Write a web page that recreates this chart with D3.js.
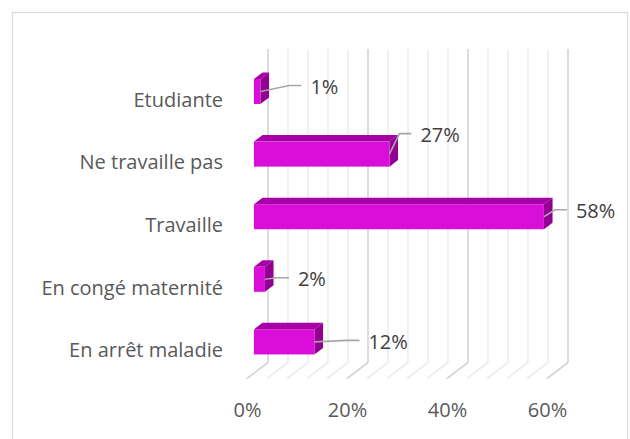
<!DOCTYPE html>
<html>
<head>
<meta charset="utf-8">
<script src="https://cdn.jsdelivr.net/npm/d3@7"></script>
<style>
    html, body { margin: 0; padding: 0; background: #fff; }
    svg text { font-family: "Open Sans", Lato, sans-serif; }
</style>
</head>
<body>
<svg id="chart" width="630" height="439"></svg>
<script>
// categories top to bottom
var categories = ['Etudiante', 'Ne travaille pas', 'Travaille', 'En congé maternité', 'En arrêt maladie'];
var values = [0.013, 0.271, 0.580, 0.022, 0.121];
var tick_values = [0, 0.2, 0.4, 0.6];
// label nudges (dragged by hand in the original), px from bar end
var label_nudge = [[50, -4.5], [31, -19], [32, -5.5], [33, 0], [54, 0]];

var svg = d3.select('#chart');
var font = '"Open Sans", Lato, sans-serif';
var font_size = 20;
var depth = {dx: 21, dy: -16};
var bar_depth = [0.33, 0.74];
var colors = {front: '#d90fd9', top: '#a600a6', side: '#920092'};

var x_scale = d3.scaleLinear().domain([0, 0.6]).range([247, 547]);
var y_scale = d3.scaleBand().domain(categories).range([65.5, 378.5])
    .paddingInner(0.6).paddingOuter(0.3);
var y_front = y_scale.range()[1];
var y_back = y_front + depth.dy;
var y_top = y_scale.range()[0] + depth.dy - 0.5;

// chart border
svg.append('rect')
    .attr('x', 12.5).attr('y', 12.5)
    .attr('width', 615).attr('height', 440)
    .attr('fill', 'none').attr('stroke', '#d9d9d9').attr('stroke-width', 1.2);

// gridlines: back wall + floor
var grid = d3.range(0, 0.6001, 0.04);
var grid_g = svg.append('g');
grid.forEach(function (g, i) {
    var major = i % 5 == 0;
    var xb = x_scale(g) + depth.dx;
    var col = major ? '#d4d4d4' : '#ececec';
    grid_g.append('line')
        .attr('x1', xb).attr('x2', xb)
        .attr('y1', y_top).attr('y2', y_back)
        .attr('stroke', col).attr('stroke-width', 1.6);
    grid_g.append('line')
        .attr('x1', xb).attr('y1', y_back)
        .attr('x2', x_scale(g)).attr('y2', y_front)
        .attr('stroke', col).attr('stroke-width', 1.6);
});

// bars
var bars = svg.append('g').selectAll('g.bar')
    .data(categories)
    .enter()
    .append('g')
    .attr('class', 'bar');

bars.each(function (c, i) {
    var g = d3.select(this);
    var x0 = x_scale(0), x1 = x_scale(values[i]);
    var y0 = y_scale(c), h = y_scale.bandwidth();
    var f0x = bar_depth[0] * depth.dx, f0y = bar_depth[0] * depth.dy;
    var f1x = bar_depth[1] * depth.dx, f1y = bar_depth[1] * depth.dy;
    var pts = function (a) {
        return a.map(function (p) { return p.join(','); }).join(' ');
    };
    g.append('polygon')
        .attr('points', pts([[x0 + f0x, y0 + f0y], [x1 + f0x, y0 + f0y], [x1 + f1x, y0 + f1y], [x0 + f1x, y0 + f1y]]))
        .attr('fill', colors.top);
    g.append('polygon')
        .attr('points', pts([[x1 + f0x, y0 + f0y], [x1 + f1x, y0 + f1y], [x1 + f1x, y0 + h + f1y], [x1 + f0x, y0 + h + f0y]]))
        .attr('fill', colors.side);
    g.append('rect')
        .attr('x', x0 + f0x).attr('y', y0 + f0y)
        .attr('width', x1 - x0).attr('height', h)
        .attr('fill', colors.front);

    // leader line + label
    var ex = x1 + f0x, ey = y0 + h / 2 + f0y;
    var lx = ex + label_nudge[i][0], ly = ey + label_nudge[i][1];
    g.append('polyline')
        .attr('points', pts([[ex, ey], [lx - 21, ly - 1.5], [lx - 9, ly - 1.5]]))
        .attr('fill', 'none').attr('stroke', '#a6a6a6').attr('stroke-width', 1.6);
    g.append('text')
        .attr('x', lx).attr('y', ly)
        .attr('dy', '0.35em')
        .attr('font-size', font_size)
        .attr('fill', '#404040')
        .text(d3.format('.0%')(values[i]));
});

// category axis
var y_axis = svg.append('g')
    .attr('transform', 'translate(226,3.5)')
    .call(d3.axisLeft(y_scale).tickSize(0).tickPadding(3));
y_axis.select('.domain').remove();
y_axis.selectAll('text').attr('font-size', font_size).attr('fill', '#595959')
    .style('font-family', font);

// value axis
var x_axis = svg.append('g')
    .attr('transform', 'translate(0,' + (y_front + 21.5) + ')')
    .call(d3.axisBottom(x_scale).tickValues(tick_values).tickFormat(d3.format('.0%')).tickSize(0).tickPadding(3));
x_axis.select('.domain').remove();
x_axis.selectAll('text').attr('font-size', font_size).attr('fill', '#595959')
    .style('font-family', font);
</script>
</body>
</html>
